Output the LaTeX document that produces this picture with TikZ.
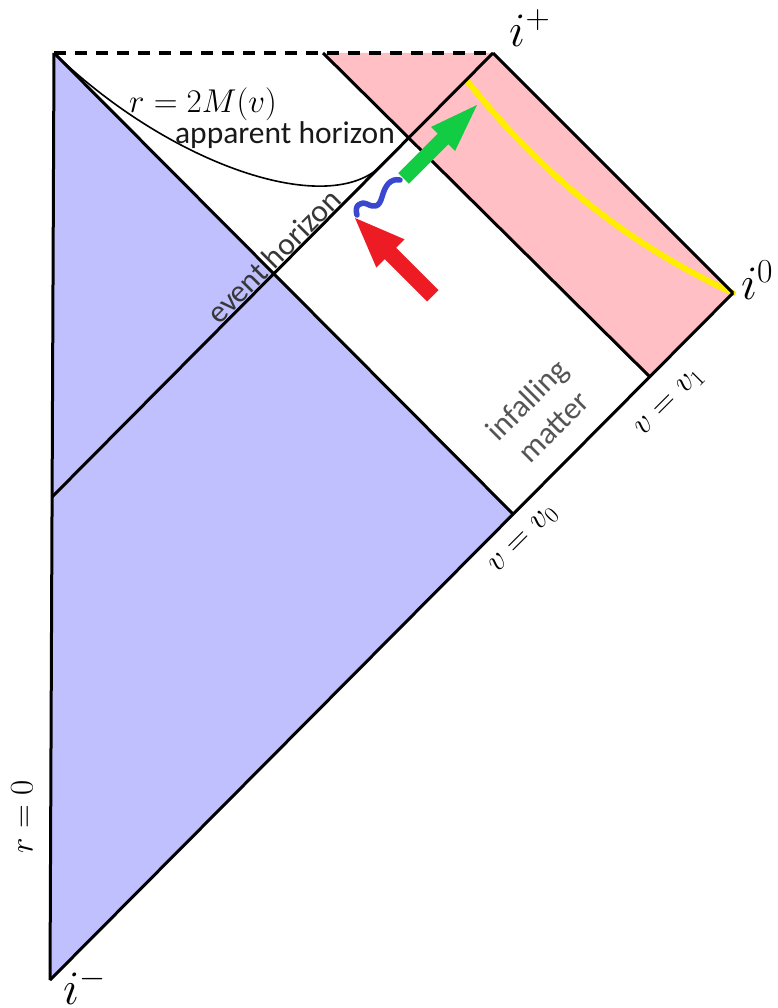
\RequirePackage{fix-cm}
\documentclass[tikz,border=0pt]{standalone}
\usepackage{fontspec}
\newfontfamily\carlito{Carlito}
\definecolor{bluefill}{RGB}{192,192,255}
\definecolor{pinkfill}{RGB}{255,191,196}
\definecolor{arrred}{RGB}{237,28,36}
\definecolor{arrgreen}{RGB}{18,204,68}
\definecolor{wavyblue}{RGB}{58,72,208}
\definecolor{curveyellow}{RGB}{255,238,0}
\definecolor{ehgray}{RGB}{55,55,55}
\definecolor{matgray}{RGB}{85,85,85}
\begin{document}
\begin{tikzpicture}[x=1pt,y=-1pt,line join=round,
  edge/.style={draw=black,line width=3pt},
  mathlbl/.style={font={\fontsize{33}{40}\selectfont},inner sep=0pt},
  ilbl/.style={font={\fontsize{48}{56}\selectfont},inner sep=0pt},
  sanslbl/.style={font={\carlito\fontsize{31.5}{38}\selectfont},inner sep=0pt}]
\useasboundingbox (0,0) rectangle (777,1008);
% key points
\coordinate (TL) at (54,53);
\coordinate (ip) at (493,53);
\coordinate (io) at (733,293);
\coordinate (im) at (50,980);
\coordinate (V0) at (513,514);
\coordinate (V1) at (650,377);
\coordinate (P) at (323,53);
\coordinate (EHL) at (52,497);
\coordinate (AHend) at (383,164);
% regions
\fill[pinkfill] (P) -- (ip) -- (io) -- (V1) -- cycle;
\fill[bluefill] (TL) -- (V0) -- (im) -- cycle;
% yellow curve
\draw[curveyellow,line width=6pt,line cap=round] (468,82) .. controls (548,182) and (634,247) .. (io);
% lines
\draw[black,line width=3.5pt,dash pattern=on 12pt off 9pt] (TL) -- (ip);
\draw[edge] (TL) -- (im);
\draw[edge] (TL) -- (V0);
\draw[edge] (im) -- (io);
\draw[edge] (EHL) -- (ip);
\draw[edge] (P) -- (V1);
\draw[edge] (ip) -- (io);
% apparent horizon curve
\draw[black,line width=1.6pt] (TL) .. controls (170,165) and (330,220) .. (AHend);
% wavy photon
\draw[wavyblue,line width=5.5pt,line cap=round] (357,215) .. controls (354,206) and (360,201) .. (367,204) .. controls (375,208) and (379,207) .. (382,197) .. controls (385,186) and (390,178) .. (400,180);
% red arrow
\fill[arrred] (355,218) -- (404.5,239.3) -- (396.1,247.7) -- (438.5,290.1) -- (427.1,301.5) -- (384.7,259.1) -- (376.3,267.5) -- cycle;
% green arrow
\fill[arrgreen] (477,105) -- (455.1,150.9) -- (448.4,144.2) -- (408.8,183.8) -- (398.2,173.2) -- (437.8,133.6) -- (431.1,126.9) -- cycle;
% labels
\node[mathlbl] (lAH) at (203,104) {$r=2M(v)$};
\node[sanslbl,anchor=base,text=black!90] (lAHt) at (285,144) {apparent horizon};
\node[sanslbl,anchor=base,rotate=45,text=ehgray] (lEH) at (281,264) {event horizon};
\node[sanslbl,rotate=45,align=center,text=matgray] (lIM) at (540,413) {infalling\\matter};
\node[mathlbl,rotate=45] (lv1) at (670,403) {$v=v_1$};
\node[mathlbl,rotate=45] (lv0) at (524,540) {$v=v_0$};
\node[mathlbl,rotate=90] (lr0) at (22,817) {$r=0$};
\node[ilbl] (lip) at (530,28) {$i^+$};
\node[ilbl] (lio) at (757,280) {$i^0$};
\node[ilbl] (lim) at (85,986) {$i^-$};
\end{tikzpicture}
\end{document}
